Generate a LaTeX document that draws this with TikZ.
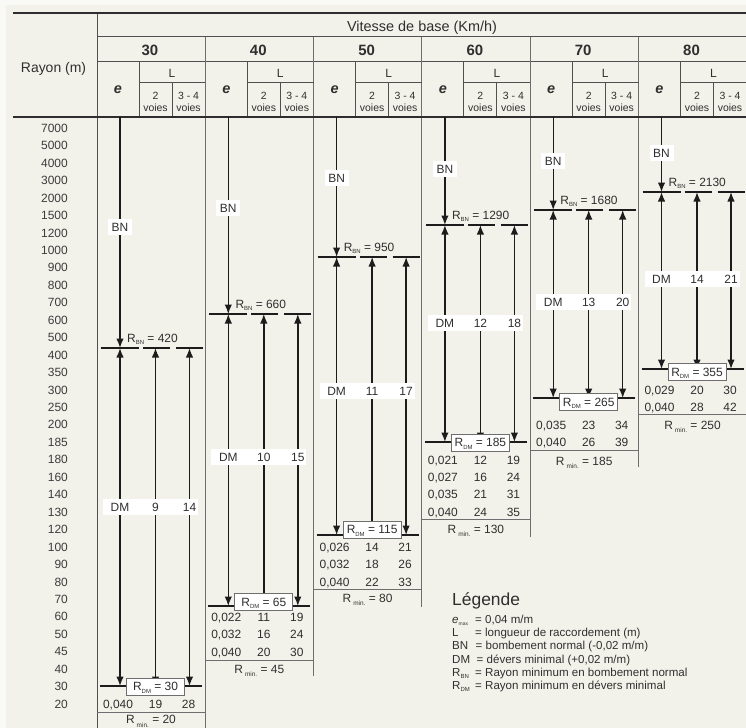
\documentclass[tikz,border=0pt]{standalone}
\usepackage{fontspec}
\setmainfont{Liberation Sans}
\usetikzlibrary{arrows.meta}
\definecolor{paper}{HTML}{F9F9F5}
\definecolor{bg}{HTML}{F3F2EA}
\definecolor{frame}{HTML}{6E6E6E}
\definecolor{hline}{HTML}{505050}
\definecolor{dark}{HTML}{2E2E2E}
\definecolor{ink}{HTML}{1C1C1C}
\definecolor{txt}{HTML}{2F2F2F}
\definecolor{rad}{HTML}{3C3C3C}
\newcommand\fs[1]{\fontsize{#1}{#1}\selectfont}
\newcommand\Rs[1]{R\raisebox{-2.6bp}{\fs{6}#1}}
\newcommand\Rmin{R\,\raisebox{-3.6bp}{\fs{6.5}min.}}
\tikzset{
 t0/.style={inner sep=0pt, text=txt, font=\fs{12}},
 tx/.style={t0, anchor=base, yshift=-4.3bp},
 radl/.style={inner sep=0pt, text=rad, font=\fs{12}, anchor=base east, yshift=-4.3bp},
 arr/.style={draw=ink, line width=1.4bp, -{Latex[length=9.5bp,width=7.5bp]}},
 darr/.style={draw=ink, line width=1.4bp, {Latex[length=9.5bp,width=7.5bp]}-{Latex[length=9.5bp,width=7.5bp]}},
 rline/.style={draw=ink, line width=1.4bp},
 frm/.style={draw=frame, line width=1bp},
 hdr/.style={draw=hline, line width=1bp},
 heavy/.style={draw=dark, line width=2bp},
 bnbox/.style={fill=white, inner sep=0pt, minimum width=24bp, minimum height=16bp, font=\fs{12}, text=txt, text height=8.6bp, text depth=0pt},
 dmbox/.style={fill=white, inner sep=0pt, minimum width=95bp, minimum height=16bp},
 rdm/.style={draw=frame, fill=white, line width=1bp, inner sep=0pt, minimum width=58bp, minimum height=17bp, font=\fs{12}, text=txt, text height=8.6bp, text depth=0pt},
}
% arrows and R lines of one speed column: name, y R_BN, y R_DM
\newcommand\arrowset[3]{%
 \coordinate (#1t) at (23,117);
 \coordinate (#1a) at (23,#2); \coordinate (#1b) at (58.5,#2); \coordinate (#1c) at (92.5,#2);
 \coordinate (#1A) at (23,#3); \coordinate (#1B) at (58.5,#3); \coordinate (#1C) at (92.5,#3);
 \draw[arr] (#1t) -- (#1a);
 \draw[darr] (#1a) -- (#1A);
 \draw[darr] (#1b) -- (#1B);
 \draw[darr] (#1c) -- (#1C);
 \draw[rline] (4,#2) -- (42,#2) (46,#2) -- (73,#2) (79,#2) -- (106,#2);
 \draw[rline] (3,#3) -- (105,#3);
}
% labels: name, y BN, y R_BN, R_BN value, y DM row, L2, L34
\newcommand\labelset[7]{%
 \node[bnbox] (#1bn) at (23,#2) {BN};
 \node[t0, anchor=base west] (#1rbn) at (30,#3-6) {\Rs{BN} = #4};
 \node[dmbox] (#1dm) at (53.5,#5) {};
 \node[tx] (#1dmt) at (23,#5) {DM};
 \node[tx] (#1dl2) at (58.5,#5) {#6};
 \node[tx] (#1dl3) at (92.5,#5) {#7};
}
% data row: name, y, e, L2, L34
\newcommand\drow[5]{%
 \node[tx] (#1a) at (21,#2) {#3};
 \node[tx] (#1b) at (58.5,#2) {#4};
 \node[tx] (#1c) at (91.5,#2) {#5};
}
% bottom: name, box cy, R_DM value, sep y, Rmin y, Rmin value
\newcommand\bottomset[6]{%
 \node[rdm] (#1box) at (58.5,#2) {\Rs{DM} = #3};
 \draw[frm] (0,#4) -- (108.3,#4);
 \node[tx] (#1rmin) at (54,#5) {\Rmin{} = #6};
}
\begin{document}
\begin{tikzpicture}[x=1bp,y=-1bp]
\useasboundingbox (0,0) rectangle (746,728);
\fill[paper] (0,0) rectangle (746,728);
\fill[bg] (6,5) rectangle (746,728);

% ---------- header grid ----------
\draw[hdr] (97,37) -- (746,37);
\draw[hdr] (97,62) -- (746,62);
\draw[hdr] (97,13) -- (97,728);
\foreach \xx/\bb in {205.3/728, 313.6/676, 421.9/607, 530.2/537, 638.5/467}
  \draw[frm] (\xx,37) -- (\xx,\bb);
\foreach \v [count=\k from 0] in {30,40,50,60,70,80} {
  \pgfmathsetmacro\xo{97+108.3*\k}
  \draw[hdr] (\xo+42,62) -- (\xo+42,117);
  \draw[hdr] (\xo+42,83) -- (\xo+108.3,83);
  \draw[hdr] (\xo+75,83) -- (\xo+75,117);
  \node[t0, anchor=base, font=\fs{15}\bfseries] (sp\v) at (\xo+53,56) {\v};
  \node[t0, anchor=base, font=\fs{14.5}\bfseries\itshape] (e\v) at (\xo+21,94) {e};
  \node[t0, anchor=base] (L\v) at (\xo+75,78) {L};
  \node[t0, anchor=base, font=\fs{10.5}] (two\v) at (\xo+58.5,99.5) {2};
  \node[t0, anchor=base, font=\fs{10.5}] (twov\v) at (\xo+58.5,112) {voies};
  \node[t0, anchor=base, font=\fs{10.5}] (tf\v) at (\xo+91.5,99.5) {3 - 4};
  \node[t0, anchor=base, font=\fs{10.5}] (tfv\v) at (\xo+91.5,112) {voies};
}
\draw[heavy] (13,13) -- (746,13);
\draw[heavy] (13,117) -- (746,117);
\node[t0, anchor=base, font=\fs{14.5}] (vit) at (422,32) {Vitesse de base (Km/h)};
\node[t0, anchor=base, font=\fs{14}] (ray) at (53.5,73) {Rayon (m)};

% ---------- radius labels ----------
\foreach \r [count=\i from 0] in {7000,5000,4000,3000,2000,1500,1200,1000,900,800,700,600,500,400,350,300,250,200,185,180,160,140,130,120,100,90,80,70,60,50,45,40,30,20}
  \node[radl] (r\r) at (68,128+17.45*\i) {\r};

% ---------- 30 ----------
\begin{scope}[shift={(97,0)}]
 \arrowset{ca}{348}{686}
 \labelset{ca}{227}{348}{420}{507}{9}{14}
 \bottomset{ca}{686.5}{30}{712}{719.5}{20}
 \drow{caA}{704}{0,040}{19}{28}
\end{scope}
% ---------- 40 ----------
\begin{scope}[shift={(205.3,0)}]
 \arrowset{cb}{314}{606}
 \labelset{cb}{208}{314}{660}{457}{10}{15}
 \bottomset{cb}{602}{65}{660}{669}{45}
 \drow{cbA}{617}{0,022}{11}{19}
 \drow{cbB}{634}{0,032}{16}{24}
 \drow{cbC}{652}{0,040}{20}{30}
\end{scope}
% ---------- 50 ----------
\begin{scope}[shift={(313.6,0)}]
 \arrowset{cc}{257}{535}
 \labelset{cc}{178}{257}{950}{391}{11}{17}
 \bottomset{cc}{529.5}{115}{589}{598}{80}
 \drow{ccA}{547}{0,026}{14}{21}
 \drow{ccB}{564}{0,032}{18}{26}
 \drow{ccC}{582}{0,040}{22}{33}
\end{scope}
% ---------- 60 ----------
\begin{scope}[shift={(421.9,0)}]
 \arrowset{cd}{225}{442}
 \labelset{cd}{169}{225}{1290}{323}{12}{18}
 \bottomset{cd}{442.5}{185}{519}{529}{130}
 \drow{cdA}{460}{0,021}{12}{19}
 \drow{cdB}{477}{0,027}{16}{24}
 \drow{cdC}{494}{0,035}{21}{31}
 \drow{cdD}{512}{0,040}{24}{35}
\end{scope}
% ---------- 70 ----------
\begin{scope}[shift={(530.2,0)}]
 \arrowset{ce}{210}{398}
 \labelset{ce}{161}{210}{1680}{302}{13}{20}
 \bottomset{ce}{402}{265}{450}{461}{185}
 \drow{ceA}{425}{0,035}{23}{34}
 \drow{ceB}{442}{0,040}{26}{39}
\end{scope}
% ---------- 80 ----------
\begin{scope}[shift={(638.5,0)}]
 \arrowset{cf}{192}{369}
 \labelset{cf}{153}{192}{2130}{279}{14}{21}
 \bottomset{cf}{372}{355}{414}{425}{250}
 \drow{cfA}{390}{0,029}{20}{30}
 \drow{cfB}{407}{0,040}{28}{42}
\end{scope}

% ---------- legend ----------
\node[t0, anchor=base west, font=\fs{17.5}] (leg) at (452,605) {Légende};
\begin{scope}[every node/.style={t0, anchor=base west, font=\fs{11.6}}]
 \node (lg1a) at (452,623) {\textit{e}\raisebox{-2bp}{\fs{5}max}};
 \node (lg1b) at (475,623) {= 0,04 m/m};
 \node (lg2a) at (452,636) {L};
 \node (lg2b) at (475,636) {= longueur de raccordement (m)};
 \node (lg3a) at (452,649.5) {BN};
 \node (lg3b) at (475.5,649.5) {= bombement normal (-0,02 m/m)};
 \node (lg4a) at (452,663) {DM};
 \node (lg4b) at (476.5,663) {= dévers minimal (+0,02 m/m)};
 \node (lg5a) at (452,676) {\Rs{BN}};
 \node (lg5b) at (475,676) {= Rayon minimum en bombement normal};
 \node (lg6a) at (452,689) {\Rs{DM}};
 \node (lg6b) at (475,689) {= Rayon minimum en dévers minimal};
\end{scope}
\end{tikzpicture}
\end{document}
